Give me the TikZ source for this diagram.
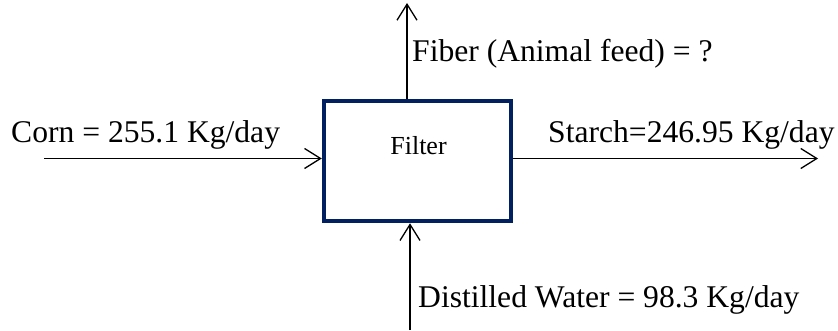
\documentclass[tikz,border=0pt]{standalone}
\usepackage{fontspec}
\setmainfont{Liberation Serif}
\usetikzlibrary{arrows.meta,positioning,calc}
\definecolor{boxblue}{RGB}{0,32,96}

\begin{document}
\begin{tikzpicture}[
        x=1pt, y=-1pt,
        font=\fontsize{31.6}{38}\selectfont,
        every node/.style={inner sep=0pt},
        flow/.style={-{Straight Barb[length=16pt,width=20pt]}, line width=1.3pt},
        unit/.style={draw=boxblue, line width=4.5pt, minimum width=187pt, minimum height=120pt},
    ]
    \useasboundingbox (0,0) rectangle (838,331);
    \node[unit] (filter) at (417.5,161) {};
    \node[anchor=base, font=\fontsize{26}{31}\selectfont] (filtertxt) at (418.5,155) {Filter};
    % streams
    \coordinate (cornin) at (44,158.5);
    \coordinate (starchout) at (818,158.5);
    \coordinate (fiberout) at (407,3);
    \coordinate (waterin) at (410,330);
    \draw[flow] (cornin) -- (cornin -| filter.west);
    \draw[flow] (starchout -| filter.east) -- (starchout);
    \draw[flow] (fiberout |- filter.north) -- (fiberout);
    \draw[flow] (waterin) -- (waterin |- filter.south);
    % labels
    \node[anchor=base west] (corn) at (11,143) {Corn = 255.1 Kg/day};
    \node[anchor=base west] (starch) at (548,143) {Starch=246.95 Kg/day};
    \node[anchor=base west] (fiber) at (412,62) {Fiber (Animal feed) = ?};
    \node[anchor=base west] (water) at (418,307) {Distilled Water = 98.3 Kg/day};
\end{tikzpicture}
\end{document}
